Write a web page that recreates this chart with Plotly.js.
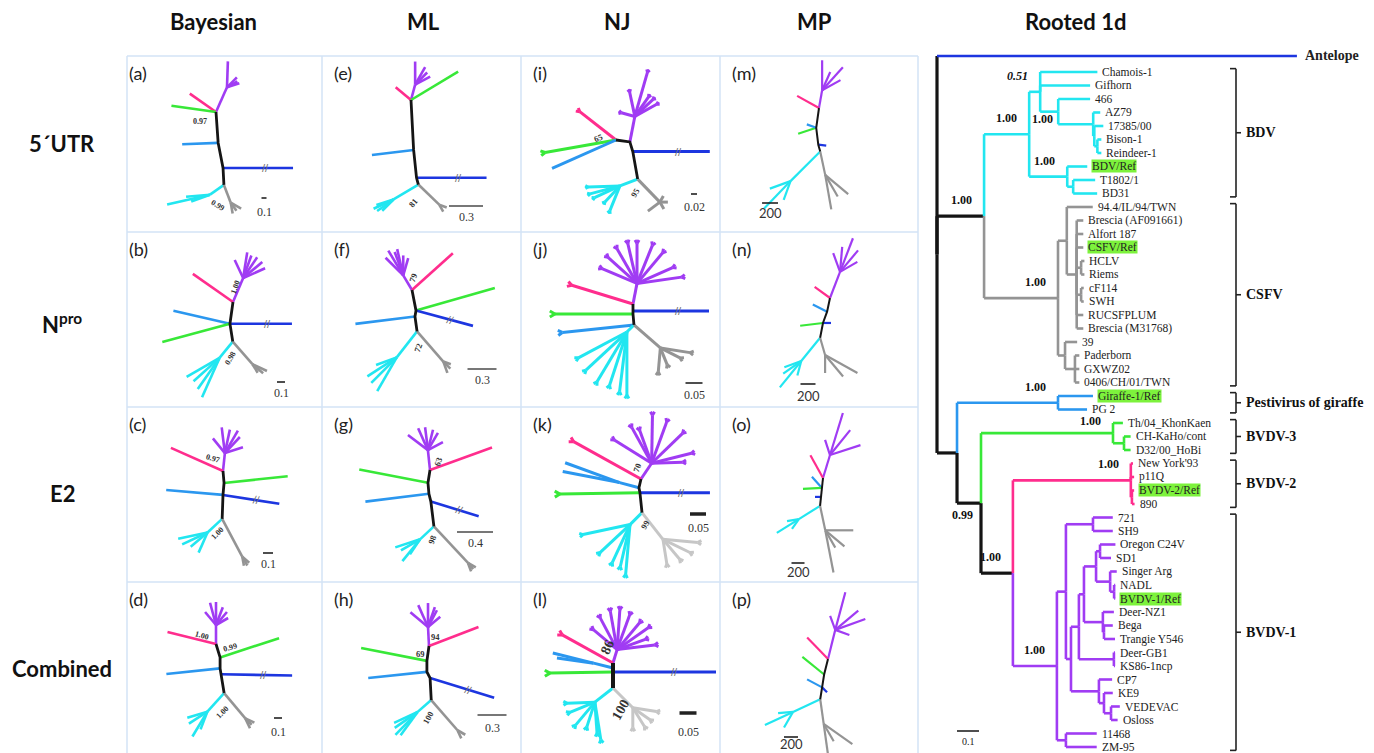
<!DOCTYPE html>
<html><head><meta charset="utf-8">
<script src="https://cdn.plot.ly/plotly-3.0.1.min.js"></script>
<style>html,body{margin:0;padding:0;background:#fff;}#chart{width:1374px;height:753px;}</style>
</head><body><div id="chart"></div>
<script>
// ---------------- DATA ----------------
const columnTitles = ["Bayesian", "ML", "NJ", "MP", "Rooted 1d"];
const rowTitles = ["5´UTR", "N<sup>pro</sup>", "E2", "Combined"];
const panelIds = ["a","b","c","d","e","f","g","h","i","j","k","l","m","n","o","p"];

// unrooted trees: spine = [angle deg, branch length]; clades = [clade, spine node, angle, length, twigs [angle,length], tip fork]
const spine_a = [[-86,31],[-79,25.5],[-87,17]];
const clades_a = [["purple",0,66,27,[[88,26],[30,12],[45,14],[18,13]]],["pink",0,145,32,[]],["green",0,172,45,[]],["lblue",1,182,36,[]],["blue",2,0,70,[]],["cyan",3,215,17,[[193,44],[200,20],[185,24]]],["gray",3,-69,19,[[-80,11],[-30,12],[-55,10]]]];
const spine_b = [[-98,22],[-81,18]];
const clades_b = [["purple",0,67,26,[[81,26],[56,25],[24,24],[70,24],[40,25],[115,20]]],["pink",0,145,49,[]],["lblue",1,167,58,[]],["green",1,195,70,[]],["blue",1,0,62,[]],["cyan",2,231,21,[[210,38],[246,43],[222,35],[235,38]]],["gray",2,-49,30,[[-25,16],[-58,10],[-40,14]]]];
const spine_c = [[-85,12],[-95,12],[-92,24]];
const clades_c = [["purple",0,84,18,[[129,19],[97,26],[78,24],[60,26],[18,19],[47,22]]],["pink",0,156,57,[]],["green",1,6,64,[]],["lblue",2,175,57,[]],["blue",2,-9,57,[]],["cyan",3,223,20,[[192,30],[220,22],[246,22],[205,28]]],["gray",3,-62,43,[[-80,9],[-40,9],[-60,10]]]];
const spine_d = [[-73,14],[-90,11],[-80,6],[-81,19]];
const clades_d = [["purple",0,90,19,[[130,17],[105,23],[90,23],[69,19],[30,14],[50,17]]],["pink",0,166,50,[]],["green",1,18,62,[]],["lblue",2,186,54,[]],["blue",3,-1,71,[]],["cyan",4,228,25,[[197,21],[239,29],[249,19],[213,22]]],["gray",4,-50,33,[[-65,11],[-25,10],[-45,9]]]];
const spine_e = [[-87,50],[-84,28],[-75,7]];
const clades_e = [["purple",0,75,16,[[90,23],[28,17],[60,20],[45,17]]],["pink",0,140,20,[]],["green",0,31,55,[]],["lblue",1,187,42,[]],["blue",2,0,70,[]],["cyan",3,211,29,[[205,22],[215,20],[198,18],[225,16]]],["gray",3,-44,29,[[-60,8],[-20,8]]]];
const spine_f = [[-79,21],[-100,6],[-82,15]];
const clades_f = [["purple",0,121,17,[[121,29],[103,27],[90,20],[135,25],[74,18],[110,25]]],["pink",0,42,55,[]],["green",1,16,82,[]],["blue",1,-15,59,[]],["lblue",2,187,60,[]],["cyan",3,232,33,[[213,35],[240,39],[225,36],[200,22]]],["gray",3,-49,40,[[-70,12],[-45,10],[-20,8]]]];
const spine_g = [[-99,13],[-85,11],[-76,8],[-83,25]];
const clades_g = [["purple",0,96,20,[[143,25],[114,24],[97,23],[76,21],[28,17],[60,20]]],["pink",0,20,66,[]],["green",1,169,70,[]],["lblue",2,187,64,[]],["blue",3,-17,50,[]],["cyan",4,223,19,[[198,26],[231,28],[236,18],[210,22]]],["gray",4,-47,50,[[-70,9],[-30,9],[-50,8]]]];
const spine_h = [[-98,15],[-90,11],[-63,7],[-87,22]];
const clades_h = [["purple",0,93,19,[[140,23],[114,24],[90,24],[71,21],[40,16],[62,19]]],["pink",0,21,53,[]],["green",1,169,67,[]],["lblue",2,186,59,[]],["blue",3,-17,67,[]],["cyan",4,221,18,[[205,26],[226,32],[234,29],[215,28]]],["gray",4,-49,40,[[-65,9],[-30,9]]]];
const spine_i = [[-8,14],[-73,10],[-80,28]];
const clades_i = [["pink",0,142,46,[],4],["green",0,190,72,[],5],["lblue",0,204,70,[]],["purple",1,79,26,[[74,46],[29,25],[43,25],[55,24],[102,25],[165,14]],3],["blue",2,0,77,[]],["cyan",3,201,19,[[182,32],[195,31],[227,22],[248,27],[205,28]],3],["gray",3,-46,32,[[217,15],[0,8],[-60,8],[60,7]]]];
const spine_j = [[-90,7],[-90,3],[-85,11]];
const clades_j = [["purple",0,79,21,[[157,38],[138,39],[120,40],[103,41],[90,40],[68,41],[50,40],[24,39],[8,45]],4],["pink",0,163,64,[],5],["blue",1,0,76,[]],["green",2,180,78,[],6],["lblue",3,186,72,[],5],["cyan",3,225,10,[[208,55],[239,58],[252,56],[263,60],[270,63],[223,56]],4],["gray",3,-41,35,[[265,24],[-68,18],[-27,22],[-9,30]],4]];
const spine_k = [[-103,9],[-79,5],[-84,20]];
const clades_k = [["purple",0,56,19,[[148,44],[119,41],[89,48],[70,44],[44,43],[14,41],[2,31],[110,35]],4],["pink",0,151,77,[],5],["lblue",1,165,20,[[160,58],[169,58]]],["green",2,181,80,[],6],["blue",2,0,70,[]],["cyan",3,225,17,[[192,48],[223,41],[245,42],[257,43],[265,50]],4],["gray",3,-52,34,[[-81,25],[-50,26],[-26,30],[-5,35]],4]];
const spine_l = [[-90,5],[-90,4],[-90,16]];
const clades_l = [["purple",0,73,14,[[140,31],[118,36],[100,39],[86,40],[70,37],[50,35],[35,38],[7,38],[20,30]],4],["pink",0,151,58,[],5],["lblue",1,166,20,[[166,42],[172,37]]],["green",2,181,63,[],6],["blue",2,0,103,[]],["cyan",3,218,23,[[182,28],[202,27],[252,26],[274,31],[279,38],[230,30]],4],["gray",3,-45,28,[[-90,20],[-58,22],[-9,24],[-35,21]],4]];
const spine_m = [[-98,20],[-83,17],[-74,7]];
const clades_m = [["purple",0,80,18,[[90,30],[29,21],[48,31],[66,20]]],["pink",0,151,25,[]],["green",1,198,19,[]],["lblue",1,160,10,[]],["blue",2,-7,8,[]],["cyan",3,225,42,[[226,38],[200,22],[250,20]]],["gray",3,-78,24,[[-80,35],[-40,30],[-60,25]]]];
const spine_n = [[-102,14],[-110,12],[-101,15]];
const clades_n = [["purple",0,69,28,[[69,36],[110,20],[30,20],[50,28],[85,25]]],["pink",0,144,19,[]],["lblue",1,153,16,[]],["blue",2,0,8,[]],["green",2,187,23,[]],["cyan",3,231,30,[[231,34],[200,18],[255,15],[215,22]]],["gray",3,-74,18,[[-90,18],[-29,37],[-50,28]]]];
const spine_o = [[-96,10],[-96,9],[-96,9]];
const clades_o = [["purple",0,73,24,[[73,44],[18,32],[108,16],[51,32]]],["pink",0,119,26,[]],["lblue",1,132,15,[]],["green",1,183,19,[]],["blue",2,180,6,[]],["cyan",3,212,25,[[212,26],[190,12],[235,12]]],["gray",3,-78,25,[[-79,43],[0,28],[-40,25],[-60,20]]]];
const spine_p = [[-104,16],[-99,13],[-99,12]];
const clades_p = [["purple",0,76,30,[[75,39],[20,32],[40,30],[-20,15],[110,15]]],["pink",0,134,30,[]],["green",1,141,28,[]],["lblue",2,152,17,[]],["blue",2,-45,7,[]],["cyan",3,205,30,[[205,31],[240,18],[185,15]]],["gray",3,-82,25,[[-82,30],[-35,35],[-60,20]]]];

// support values shown on unrooted trees and scale-bar values
const support_a = ["0.97","0.99"], support_b = ["1.00","0.98"], support_c = ["0.97","1.00"], support_d = ["1.00","0.99","1.00"];
const support_e = ["81"], support_f = ["79","72"], support_g = ["63","98"], support_h = ["94","69","100"];
const support_i = ["65","95"], support_j = [], support_k = ["70","99"], support_l = ["86","100"];
const scaleValues = ["0.1","0.1","0.1","0.1","0.3","0.3","0.4","0.3","0.02","0.05","0.05","0.05","200","200","200","200"];

// rooted tree: [name, branch length, children]
const rootedTree = ["root",0,[
  ["Antelope",1.636],
  ["BC",0.214,[
    ["BDV",0.205,[
      ["UP",0.05,[["Chamois-1",0.26],["Gifhorn",0.227],["Z",0.082,[["466",0.145],["AZ",0.159,[["AZ79",0.032],["AZb",0.005,[["17385/00",0.041],["BR2",0.014,[["Bison-1",0.018],["Reindeer-1",0.018]]]]]]]]]]],
      ["BR",0.173,[["BDV/Ref",0.091],["BR3",0.027,[["T1802/1",0.1],["BD31",0.109]]]]]
    ]],
    ["CSFV",0.336,[
      ["CA",0.04,[["94.4/IL/94/TWN",0.118],["CB",0.045,[["Brescia (AF091661)",0.03],["Alfort 187",0.03],["CSFV/Ref",0.03],["CH",0.02,[["HCLV",0.015],["Riems",0.015]]],["CC",0.02,[["cF114",0.012],["SWH",0.012]]],["RUCSFPLUM",0.03],["Brescia (M31768)",0.03]]]]],
      ["CD",0.032,[["39",0.055],["CE",0.045,[["Paderborn",0.02],["GXWZ02",0.02],["0406/CH/01/TWN",0.02]]]]]
    ]]
  ]],
  ["R",0.091,[
    ["G",0.459,[["Giraffe-1/Ref",0.159],["PG 2",0.132]]],
    ["S",0.109,[
      ["T3",0.6,[["Th/04_KhonKaen",0.045],["T3b",0.05,[["CH-KaHo/cont",0.03],["D32/00_HoBi",0.03]]]]],
      ["U",0.145,[
        ["B2",0.536,[["New York'93",0.01],["p11Q",0.015],["B2b",0.005,[["BVDV-2/Ref",0.01],["890",0.012]]]]],
        ["B1",0.2,[
          ["V",0.041,[
            ["N1",0.123,[["721",0.09],["SH9",0.09]]],
            ["V2",0.023,[
              ["V3",0.036,[
                ["V4",0.023,[
                  ["O",0.055,[["OS",0.018,[["Oregon C24V",0.07],["SD1",0.05]]],["SN",0.064,[["Singer Arg",0.03],["SNb",0.018,[["NADL",0.005],["BVDV-1/Ref",0.005]]]]]]],
                  ["DNZ",0.086,[["Deer-NZ1",0.05],["DNZb",0.005,[["Bega",0.04],["Trangie Y546",0.05]]]]]
                ]],
                ["DGB",0.159,[["Deer-GB1",0.005],["KS86-1ncp",0.005]]]
              ]],
              ["CPg",0.127,[["CP7",0.06],["KEn",0.023,[["KE9",0.04],["VEn",0.032,[["VEDEVAC",0.04],["Osloss",0.03]]]]]]]
            ]]
          ]],
          ["W",0.041,[["11468",0.14],["ZM-95",0.14]]]
        ]]
      ]]
    ]]
  ]]
]];
const rootedCladeColor = {Antelope:"blue", BDV:"cyan", CSFV:"gray", G:"lblue", T3:"green", B2:"pink", B1:"purple"};
const rootedSupportNodes = ["UP","BDV","Z","BR","BC","CSFV","G","T3","B2","S","U","B1"];
const rootedSupportValues = ["0.51","1.00","1.00","1.00","1.00","1.00","1.00","1.00","1.00","0.99","1.00","1.00"];
const referenceStrains = ["BDV/Ref","CSFV/Ref","Giraffe-1/Ref","BVDV-2/Ref","BVDV-1/Ref"];
const groupNames = ["BDV","CSFV","Pestivirus of giraffe","BVDV-3","BVDV-2","BVDV-1"];
const groupFirst = ["Chamois-1","94.4/IL/94/TWN","Giraffe-1/Ref","Th/04_KhonKaen","New York'93","721"];
const groupLast = ["BD31","0406/CH/01/TWN","PG 2","D32/00_HoBi","890","ZM-95"];
const rootedScale = "0.1";

// ---------------- LAYOUT / STYLE ----------------
const W = 1374, H = 753;
const colEdges = [117, 322, 521, 720, 918];
const frameCols = [127, 322, 521, 720, 918];
const rowEdges = [56, 232, 407, 582, 753];
const COLORS = {purple:"#a03cf3", pink:"#ff2d8d", green:"#38e838", lblue:"#2b97ef", blue:"#1d36e0", cyan:"#22e6f0", gray:"#949494", black:"#141414"};
const panelStyle = {
  a:{hub:[99,56], lab:[[-16,9,0],[2,93,30]], scale:[147,142,5,156]},
  b:{hub:[116,70], lab:[[2,-15,-70],[-3,56,-60]], scale:[164,150,8,161]},
  c:{hub:[106,64], lab:[[-10,-13,15],[-6,62,-45]], scale:[151,146,10,157]},
  d:{hub:[99,62], lab:[[-14,-9,15],[14,3,-15],[6,68,-45]], scale:[161,136,8,150]},
  e:{hub:[89,44], lab:[[2,103,-50]], scale:[144,150,34,161]},
  f:{hub:[90,58], lab:[[1,-12,-70],[6,58,-70]], scale:[160,137,29,148]},
  g:{hub:[108,63], lab:[[8,-8,-70],[2,70,-70]], scale:[153,125,36,136]},
  h:{hub:[107,64], lab:[[6,-9,0],[-9,8,0],[-1,72,-60]], scale:[170,133,29,146]},
  i:{hub:[95,84], lab:[[-18,-2,-20],[19,53,-60]], scale:[173,138,6,151]},
  j:{hub:[112,72], lab:[], scale:[173,151,17,163]},
  k:{hub:[120,72], lab:[[-4,-11,-70],[4,46,-60]], scale:[177,107,16,121]},
  l:{hub:[92,81], lab:[[-6,-16,-65],[7,47,-60]], scale:[167,131,17,150]},
  m:{hub:[99,52], lab:[], scale:[50,147,16,157]},
  n:{hub:[110,66], lab:[], scale:[88,152,15,164]},
  o:{hub:[103,71], lab:[], scale:[78,156,13,165]},
  p:{hub:[108,77], lab:[], scale:[71,155,14,162]}
};
const panelSpec = {a:[spine_a,clades_a,support_a],b:[spine_b,clades_b,support_b],c:[spine_c,clades_c,support_c],d:[spine_d,clades_d,support_d],
  e:[spine_e,clades_e,support_e],f:[spine_f,clades_f,support_f],g:[spine_g,clades_g,support_g],h:[spine_h,clades_h,support_h],
  i:[spine_i,clades_i,support_i],j:[spine_j,clades_j,support_j],k:[spine_k,clades_k,support_k],l:[spine_l,clades_l,support_l],
  m:[spine_m,clades_m,[]],n:[spine_n,clades_n,[]],o:[spine_o,clades_o,[]],p:[spine_p,clades_p,[]]};

const traces = [];
const annotations = [];
const shapes = [];
const layout = {width:W, height:H, margin:{l:0,r:0,t:0,b:0}, paper_bgcolor:"#ffffff", plot_bgcolor:"rgba(0,0,0,0)", showlegend:false, hovermode:false};

function pol(p, a, l){ const r = a*Math.PI/180; return [p[0] + l*Math.cos(r), p[1] - l*Math.sin(r)]; }
const px = v => v / W, py = v => 1 - v / H;
const headFont = {family:"Lato, 'Open Sans', sans-serif", size:22, color:"#111"};

// titles
const headerX = [213, 423, 617, 814, 1075];
columnTitles.forEach((t,i)=>annotations.push({xref:"paper",yref:"paper",x:px(headerX[i]),y:py(22),xanchor:"center",yanchor:"middle",text:"<b>"+t+"</b>",showarrow:false,font:headFont}));
const rowY = [143, 323, 493, 668];
rowTitles.forEach((t,i)=>annotations.push({xref:"paper",yref:"paper",x:px(62),y:py(rowY[i]),xanchor:"center",yanchor:"middle",text:"<b>"+t+"</b>",showarrow:false,font:headFont}));

// panel frames
const frameColor = "#d3e3f6";
frameCols.forEach(x=>shapes.push({type:"line",xref:"paper",yref:"paper",x0:px(x),x1:px(x),y0:py(rowEdges[0]),y1:py(H),line:{color:frameColor,width:1.5}}));
rowEdges.slice(0,4).forEach(y=>shapes.push({type:"line",xref:"paper",yref:"paper",x0:px(frameCols[0]),x1:px(frameCols[4]),y0:py(y),y1:py(y),line:{color:frameColor,width:1.5}}));

// ---------------- unrooted panels ----------------
panelIds.forEach((pid,k)=>{
  const col = Math.floor(k/4), row = k%4;
  const n = k+1, id = n===1 ? "" : String(n);
  const x0 = colEdges[col], x1 = colEdges[col+1], y0 = rowEdges[row], y1 = rowEdges[row+1];
  const w = x1-x0, h = y1-y0;
  layout["xaxis"+id] = {domain:[px(x0), px(x1)], range:[0,w], visible:false, fixedrange:true, anchor:"y"+id};
  layout["yaxis"+id] = {domain:[py(y1), py(y0)], range:[h,0], visible:false, fixedrange:true, anchor:"x"+id};
  const xr = "x"+id, yr = "y"+id;
  const [spine, clades, supports] = panelSpec[pid];
  const st = panelStyle[pid];
  const isMP = col===3, isNJ = col===2;
  const lightGray = (pid==="k"||pid==="l");
  const lw = isMP ? 2.2 : (isNJ ? 3 : 2.6);
  const nodes = [st.hub];
  spine.forEach(s=>nodes.push(pol(nodes[nodes.length-1], s[0], s[1])));
  const segs = {};
  const add = (c,p,q)=>{ const s = segs[c] || (segs[c]={x:[],y:[]}); s.x.push(p[0],q[0],null); s.y.push(p[1],q[1],null); };
  const fork = (c,p,a,f)=>{ add(c,p,pol(p,a+30,f)); add(c,p,pol(p,a-30,f)); };
  clades.forEach(cl=>{
    const [c, ni, ang, len, twigs, fk] = cl;
    const start = nodes[ni], end = pol(start, ang, len);
    add(c, start, end);
    if (!twigs.length && fk) fork(c, end, ang, fk);
    twigs.forEach(t=>{ const te = pol(end, t[0], t[1]); add(c, end, te); if (fk) fork(c, te, t[0], fk); });
    if (c==="blue" && !isMP) {
      const bm = pol(start, ang, len*0.6);
      annotations.push({xref:xr,yref:yr,x:bm[0],y:bm[1],text:"//",showarrow:false,textangle:-ang,font:{family:"Liberation Sans, sans-serif",size:11,color:"#707070"}});
    }
  });
  Object.keys(segs).forEach(c=>{
    const col2 = (c==="gray" && lightGray) ? "#c6c6c6" : COLORS[c];
    traces.push({type:"scatter",mode:"lines",x:segs[c].x,y:segs[c].y,xaxis:xr,yaxis:yr,line:{color:col2,width:lw},hoverinfo:"skip"});
  });
  traces.push({type:"scatter",mode:"lines",x:nodes.map(p=>p[0]),y:nodes.map(p=>p[1]),xaxis:xr,yaxis:yr,line:{color:"#151515",width:isMP?2:(pid==="l"?4:2.8)},hoverinfo:"skip"});
  // support labels
  supports.forEach((t,i)=>{
    const L = st.lab[i];
    annotations.push({xref:xr,yref:yr,x:st.hub[0]+L[0],y:st.hub[1]+L[1],text:"<b>"+t+"</b>",showarrow:false,textangle:L[2],
      font:{family:"Liberation Serif, serif",size:(pid==="l"?14:(col===0?8:8.5)),color:"#333"}});
  });
  // scale bar
  const sc = st.scale;
  const thick = (pid==="k"||pid==="l");
  traces.push({type:"scatter",mode:"lines",x:[sc[0]-sc[2]/2, sc[0]+sc[2]/2],y:[sc[1],sc[1]],xaxis:xr,yaxis:yr,
    line:{color: col===1 ? "#777" : "#222", width: thick?3.5:(col===1?2:1.6)},hoverinfo:"skip"});
  annotations.push({xref:xr,yref:yr,x:sc[0],y:sc[3],text:scaleValues[k],showarrow:false,
    font:{family: isMP ? "Lato, sans-serif" : "Liberation Serif, serif", size: isMP?13:12, color:"#333"}});
  // panel letter
  annotations.push({xref:xr,yref:yr,x:10,y:17,xanchor:"left",text:"("+pid+")",showarrow:false,font:{family:"Lato, 'Open Sans', sans-serif",size:18,color:"#222"}});
});

// ---------------- rooted tree ----------------
const RX0 = 930, RPX = 220;     // px per unit
const rootPx = 937, rowPx = 13.5, firstRowPx = 72, topPx = 40;
const antelopeRow = 1 - 16/13.5;
const rid = "17";
layout["xaxis"+rid] = {domain:[px(RX0),1], range:[(RX0-rootPx)/RPX,(W-rootPx)/RPX], visible:false, fixedrange:true, anchor:"y"+rid};
layout["yaxis"+rid] = {domain:[0, py(topPx)], range:[1+(H-firstRowPx)/rowPx, 1+(topPx-firstRowPx)/rowPx], visible:false, fixedrange:true, anchor:"x"+rid};
const rxr = "x"+rid, ryr = "y"+rid;
const leaves = [], byName = {};
function walk(node, parent){
  const [name, len, kids] = node;
  const o = {name, x:(parent?parent.x:0)+len, parent, kids:[], color: rootedCladeColor[name] || (parent?parent.color:"black")};
  byName[name] = o;
  if (kids) { o.kids = kids.map(c=>walk(c,o)); o.y = (o.kids[0].y + o.kids[o.kids.length-1].y)/2; }
  else { o.y = leaves.length===0 ? antelopeRow : leaves.length; leaves.push(o); }
  return o;
}
const root = walk(rootedTree, null);
const rsegs = {};
const radd = (c,p,q)=>{ const s = rsegs[c] || (rsegs[c]={x:[],y:[]}); s.x.push(p[0],q[0],null); s.y.push(p[1],q[1],null); };
(function emit(nd){
  nd.kids.forEach(c=>{
    radd(nd.parent ? c.color : "black", [nd.x,nd.y], [nd.x,c.y]);
    radd(c.color, [nd.x,c.y], [c.x,c.y]);
    emit(c);
  });
})(root);
Object.keys(rsegs).forEach(c=>traces.push({type:"scatter",mode:"lines",x:rsegs[c].x,y:rsegs[c].y,xaxis:rxr,yaxis:ryr,
  line:{color:COLORS[c],width:c==="black"?3.2:2.6},hoverinfo:"skip"}));
leaves.forEach(l=>{
  const isAnt = l.name==="Antelope";
  const ref = referenceStrains.includes(l.name);
  annotations.push({xref:rxr,yref:ryr,x:l.x,y:l.y,xanchor:"left",xshift:isAnt?7:4,text:isAnt?"<b>"+l.name+"</b>":l.name,showarrow:false,
    bgcolor: ref ? "#7df23c" : "rgba(0,0,0,0)", borderpad:0,
    font:{family:"Liberation Serif, serif",size:isAnt?14:11.5,color:"#222"}});
});
rootedSupportNodes.forEach((nm,i)=>{
  const nd = byName[nm];
  let a = {xref:rxr,yref:ryr,x:nd.x,y:nd.y,xanchor:"right",yanchor:"bottom",xshift:-10,yshift:7,showarrow:false,
    text: nm==="UP" ? "<b><i>"+rootedSupportValues[i]+"</i></b>" : "<b>"+rootedSupportValues[i]+"</b>",
    font:{family:"Liberation Serif, serif",size:12,color:"#111"}};
  if (nm==="S") { a.yanchor="top"; a.yshift=-3; a.xshift=-6; }
  if (nm==="Z") { a.yanchor="middle"; a.yshift=-7; a.xshift=-3; }
  if (nm==="T3") { a.yshift=3; }
  annotations.push(a);
});
// clade brackets
const brX = 1236;
groupNames.forEach((g,i)=>{
  const ya = byName[groupFirst[i]].y - 0.25, yb = byName[groupLast[i]].y + 0.25, ym = (ya+yb)/2;
  const ln = {color:"#222", width:1.6};
  shapes.push({type:"line",xref:"paper",yref:ryr,x0:px(brX),x1:px(brX),y0:ya,y1:yb,line:ln});
  shapes.push({type:"line",xref:"paper",yref:ryr,x0:px(brX-6),x1:px(brX),y0:ya,y1:ya,line:ln});
  shapes.push({type:"line",xref:"paper",yref:ryr,x0:px(brX-6),x1:px(brX),y0:yb,y1:yb,line:ln});
  shapes.push({type:"line",xref:"paper",yref:ryr,x0:px(brX),x1:px(brX+5),y0:ym,y1:ym,line:ln});
  annotations.push({xref:"paper",yref:ryr,x:px(brX+8),y:ym,xanchor:"left",text:"<b>"+g+"</b>",showarrow:false,font:{family:"Liberation Serif, serif",size:14,color:"#111"}});
});
// rooted scale bar
const sbRow = 1 + (731-firstRowPx)/rowPx;
traces.push({type:"scatter",mode:"lines",x:[(957-rootPx)/RPX,(957-rootPx)/RPX+0.1],y:[sbRow,sbRow],xaxis:rxr,yaxis:ryr,line:{color:"#222",width:1.6},hoverinfo:"skip"});
annotations.push({xref:rxr,yref:ryr,x:(957-rootPx)/RPX+0.05,y:sbRow,yanchor:"top",yshift:-3,text:rootedScale,showarrow:false,font:{family:"Liberation Serif, serif",size:10,color:"#222"}});

layout.annotations = annotations;
layout.shapes = shapes;
Plotly.newPlot("chart", traces, layout, {staticPlot:true, displayModeBar:false});
</script>
</body></html>
